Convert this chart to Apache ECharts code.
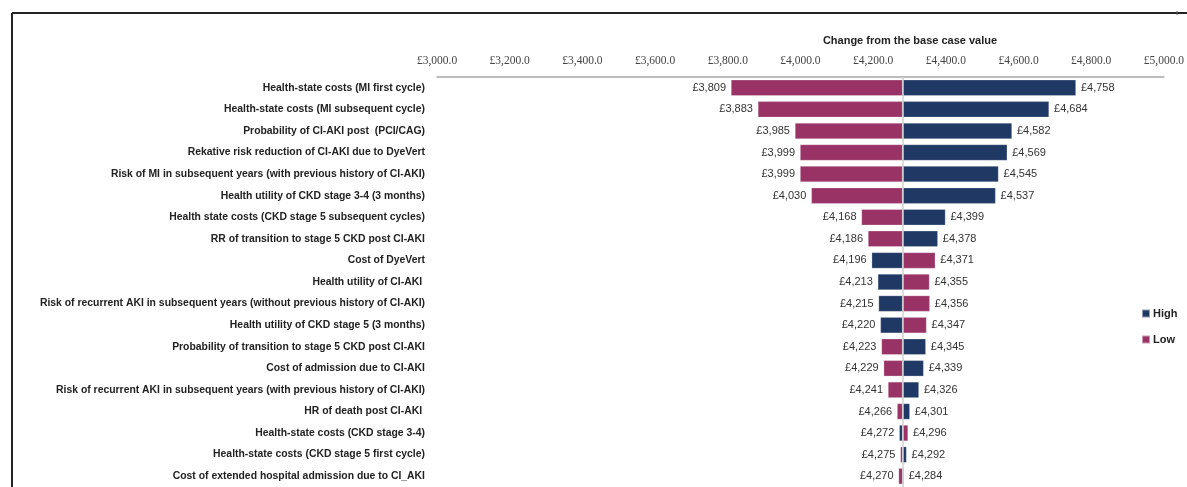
<!DOCTYPE html>
<html>
<head>
<meta charset="utf-8">
<script src="https://cdn.jsdelivr.net/npm/echarts@6/dist/echarts.min.js"></script>
<style>
html,body{margin:0;padding:0;background:#fff;}
#chart{width:1187px;height:487px;}
</style>
</head>
<body>
<div id="chart"></div>
<script>
const parameters = [
  "Health-state costs (MI first cycle)",
  "Health-state costs (MI subsequent cycle)",
  "Probability of CI-AKI post  (PCI/CAG)",
  "Rekative risk reduction of CI-AKI due to DyeVert",
  "Risk of MI in subsequent years (with previous history of CI-AKI)",
  "Health utility of CKD stage 3-4 (3 months)",
  "Health state costs (CKD stage 5 subsequent cycles)",
  "RR of transition to stage 5 CKD post CI-AKI",
  "Cost of DyeVert",
  "Health utility of CI-AKI ",
  "Risk of recurrent AKI in subsequent years (without previous history of CI-AKI)",
  "Health utility of CKD stage 5 (3 months)",
  "Probability of transition to stage 5 CKD post CI-AKI",
  "Cost of admission due to CI-AKI",
  "Risk of recurrent AKI in subsequent years (with previous history of CI-AKI)",
  "HR of death post CI-AKI ",
  "Health-state costs (CKD stage 3-4)",
  "Health-state costs (CKD stage 5 first cycle)",
  "Cost of extended hospital admission due to CI_AKI"
];
const lowValues  = [3809, 3883, 3985, 3999, 3999, 4030, 4168, 4186, 4371, 4355, 4356, 4347, 4223, 4229, 4241, 4266, 4296, 4275, 4270];
const highValues = [4758, 4684, 4582, 4569, 4545, 4537, 4399, 4378, 4196, 4213, 4215, 4220, 4345, 4339, 4326, 4301, 4272, 4292, 4284];
const baseCase = 4281;
const axisTicks = [3000, 3200, 3400, 3600, 3800, 4000, 4200, 4400, 4600, 4800, 5000];

const PINK = '#993366';
const BLUE = '#203864';
const fmt = v => '£' + v.toLocaleString('en-GB');

function padData(vals){ return vals.map(v => Math.min(v, baseCase)); }
function segData(vals){
  return vals.map(v => ({
    value: Math.abs(v - baseCase),
    label: { position: v < baseCase ? 'left' : 'right' }
  }));
}

const labelStyle = {
  show: true,
  fontFamily: 'Liberation Sans',
  fontSize: 11,
  color: '#333',
  distance: 5
};

const chart = echarts.init(document.getElementById('chart'));
chart.setOption({
  animation: false,
  backgroundColor: '#fff',
  title: {
    text: 'Change from the base case value',
    left: 905, top: 30, textAlign: 'center',
    textStyle: { fontFamily: 'Liberation Sans', fontSize: 11, fontWeight: 'bold', color: '#222' }
  },
  legend: {
    data: ['High', 'Low'],
    orient: 'vertical',
    left: 1136, top: 303,
    itemWidth: 8, itemHeight: 8, itemGap: 15,
    icon: 'rect',
    textStyle: { fontFamily: 'Liberation Sans', fontSize: 11, fontWeight: 'bold', color: '#222', padding: [0,0,0,-2] }
  },
  graphic: [
    { type: 'line', shape: { x1: 12, y1: 13, x2: 1187, y2: 13 }, style: { stroke: '#222', lineWidth: 2 } },
    { type: 'line', shape: { x1: 12, y1: 13, x2: 12, y2: 487 }, style: { stroke: '#222', lineWidth: 2 } },
    { type: 'line', shape: { x1: 1177, y1: 11, x2: 1177, y2: 15 }, style: { stroke: '#666', lineWidth: 1 } }
  ],
  grid: { left: 437, right: 23, top: 77, height: 413, containLabel: false },
  xAxis: {
    type: 'value', position: 'top',
    min: axisTicks[0], max: axisTicks[axisTicks.length - 1], interval: 200,
    axisLine: { show: true, lineStyle: { color: '#a6a6a6', width: 1.5 } },
    axisTick: { show: false },
    splitLine: { show: false },
    axisLabel: {
      margin: 10,
      fontFamily: 'Liberation Serif', fontSize: 11.5, color: '#444',
      formatter: v => '£' + v.toLocaleString('en-GB') + '.0'
    }
  },
  yAxis: {
    type: 'category', inverse: true, data: parameters,
    axisLine: { show: false }, axisTick: { show: false },
    axisLabel: {
      margin: 12,
      fontFamily: 'Liberation Sans', fontSize: 10.4, fontWeight: 'bold', color: '#222'
    }
  },
  series: [
    {
      name: 'lowPad', type: 'bar', stack: 'L', barWidth: 16, barGap: '-100%',
      data: padData(lowValues), itemStyle: { color: 'transparent' }, silent: true,
      markLine: {
        silent: true, symbol: 'none', label: { show: false },
        lineStyle: { color: '#d0d0d0', width: 1.5, type: 'solid' },
        data: [{ xAxis: baseCase }]
      }
    },
    {
      name: 'Low', type: 'bar', stack: 'L', barWidth: 16, barGap: '-100%',
      data: segData(lowValues),
      itemStyle: { color: PINK, borderColor: 'rgba(255,255,255,0.5)', borderWidth: 0.5 },
      label: Object.assign({}, labelStyle, { formatter: p => fmt(lowValues[p.dataIndex]) })
    },
    {
      name: 'highPad', type: 'bar', stack: 'H', barWidth: 16, barGap: '-100%',
      data: padData(highValues), itemStyle: { color: 'transparent' }, silent: true
    },
    {
      name: 'High', type: 'bar', stack: 'H', barWidth: 16, barGap: '-100%',
      data: segData(highValues),
      itemStyle: { color: BLUE, borderColor: 'rgba(255,255,255,0.5)', borderWidth: 0.5 },
      label: Object.assign({}, labelStyle, { formatter: p => fmt(highValues[p.dataIndex]) })
    }
  ]
});
</script>
</body>
</html>
